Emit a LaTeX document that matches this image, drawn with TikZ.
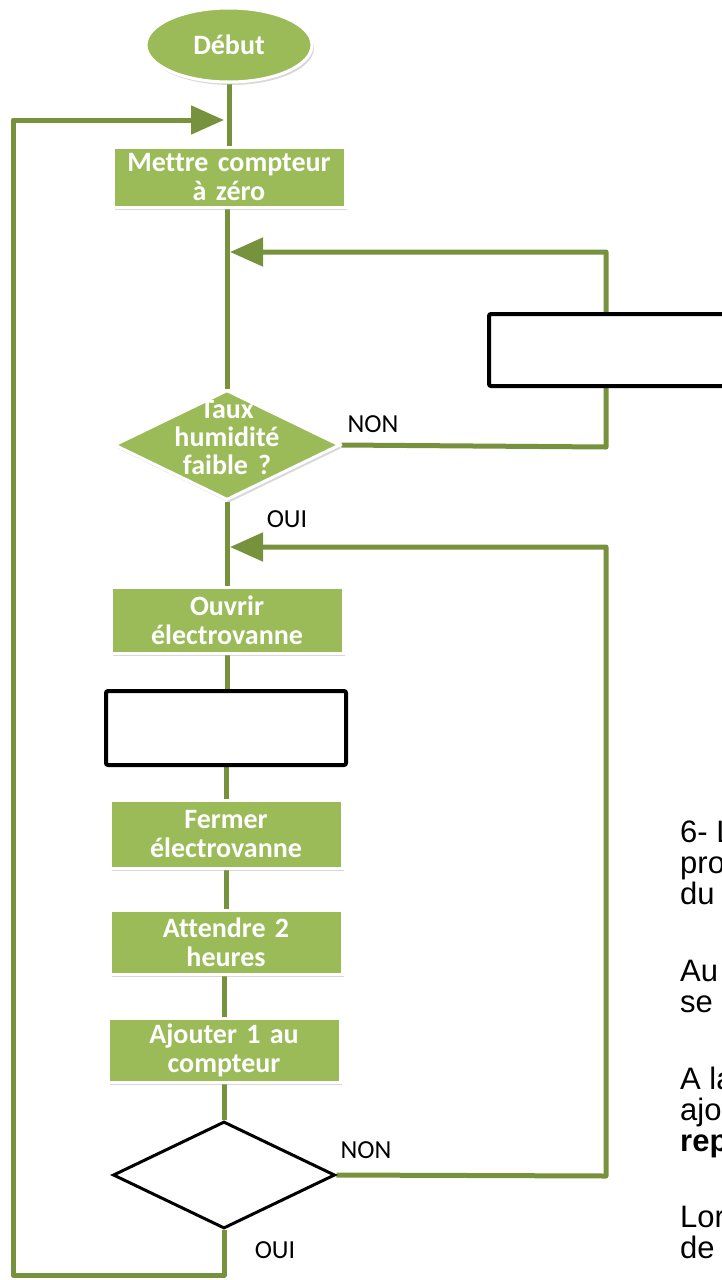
\documentclass[tikz,border=0pt]{standalone}
\usepackage{fontspec}
\setmainfont{Carlito}[WordSpace=0.8, Ligatures=NoCommon]
\newfontfamily\arialfont{Liberation Sans}
\usetikzlibrary{shapes.geometric,arrows.meta,shadows,backgrounds}

\definecolor{VertClair}{RGB}{155,187,89}
\definecolor{VertFonce}{RGB}{118,146,60}

\tikzset{
    etape/.style={rectangle, fill=VertClair, draw=white, line width=3pt,
        minimum width=232pt, minimum height=64pt, text width=228pt, align=center,
        inner sep=0pt, text=white, font=\bfseries\fontsize{28}{29}\selectfont,
        drop shadow={shadow xshift=2pt, shadow yshift=-3pt, fill=black!30}},
    vide/.style={rectangle, fill=white, draw=black, line width=4pt,
        rounded corners=2pt, minimum width=240pt, minimum height=74pt},
    testvert/.style={diamond, fill=VertClair, draw=white, line width=3pt,
        inner sep=0pt, minimum width=226pt, minimum height=110pt,
        drop shadow={shadow xshift=2pt, shadow yshift=-3pt, fill=black!30}},
    testvide/.style={diamond, fill=white, draw=black, line width=3pt,
        inner sep=0pt, minimum width=222pt, minimum height=107pt},
    liaison/.style={draw=VertFonce, line width=5pt, line join=round},
    retour/.style={liaison, -{Triangle[length=33pt,width=28pt]}},
    etiquette/.style={font=\fontsize{26}{28}\selectfont, inner sep=0pt},
    consigne/.style={font=\arialfont\fontsize{31}{31}\selectfont, anchor=base west, inner sep=0pt}
}

\begin{document}
\begin{tikzpicture}[x=1pt,y=-1pt]
    \useasboundingbox (0,0) rectangle (721,1280);

    % colonne principale
    \node[ellipse, fill=VertClair, draw=white, line width=3pt, minimum width=166pt, minimum height=74pt,
        text=white, font=\bfseries\fontsize{28}{29}\selectfont,
        drop shadow={shadow xshift=2pt, shadow yshift=-3pt, fill=black!30}] (Debut) at (229,45) {Début};
    \node[etape, minimum height=60pt] (RazCompteur) at (229,177) {Mettre compteur\\à zéro};
    \node[testvert] (TestHumidite) at (227,445) {};
    \node[text=white, font=\bfseries\fontsize{28}{28}\selectfont, align=center, inner sep=0pt]
        (TexteHumidite) at (227,438) {Taux\\humidité\\faible~ ?};
    \node[etape, minimum height=66pt] (OuvrirVanne) at (227,620) {Ouvrir\\électrovanne};
    \node[vide] (BlocVide) at (226,728) {};
    \node[etape, minimum height=68pt] (FermerVanne) at (226,834) {Fermer\\électrovanne};
    \node[etape] (Attendre) at (226,942) {Attendre 2\\heures};
    \node[etape] (AjouterUn) at (224,1050) {Ajouter 1 au\\compteur};
    \node[testvide] (TestCompteur) at (224,1175) {};

    % bloc de droite
    \node[vide, minimum width=262pt, minimum height=72pt, anchor=west] (BlocDroit) at (487,350) {};

    % points de retour
    \coordinate (RetourDebut) at (224,120);
    \coordinate (RetourHaut) at (230,252);
    \coordinate (RetourMilieu) at (230,547);

    \begin{scope}[on background layer]
        \draw[liaison] (Debut.south -| RazCompteur) -- (RazCompteur.north);
        \draw[liaison] (RazCompteur.south -| TestHumidite) -- (TestHumidite.north);
        \draw[liaison] (TestHumidite.south) -- (OuvrirVanne.north -| TestHumidite);
        \draw[liaison] (OuvrirVanne.south) -- (BlocVide.north -| OuvrirVanne);
        \draw[liaison] (BlocVide.south) -- (FermerVanne.north);
        \draw[liaison] (FermerVanne.south) -- (Attendre.north);
        \draw[liaison] (Attendre.south -| AjouterUn) -- (AjouterUn.north);
        \draw[liaison] (AjouterUn.south) -- (TestCompteur.north);
        \draw[retour] (TestHumidite.east) -- (606,447) -- (606,252) -- (RetourHaut);
        \draw[retour] (TestCompteur.east) -- (606,1176) -- (606,547) -- (RetourMilieu);
        \draw[retour] (TestCompteur.south) -- (224,1275) -- (13,1275) -- (13,120) -- (RetourDebut);
    \end{scope}

    % etiquettes
    \node[etiquette] (NonHaut) at (373,424) {NON};
    \node[etiquette] (OuiHaut) at (287,519) {OUI};
    \node[etiquette] (NonBas) at (366,1150) {NON};
    \node[etiquette] (OuiBas) at (275,1250) {OUI};

    % texte coupe a droite
    \node[consigne] (Ligne1) at (680,842) {6- L};
    \node[consigne] (Ligne2) at (680,873) {pro};
    \node[consigne] (Ligne3) at (680,904) {du};
    \node[consigne] (Ligne4) at (680,981) {Au};
    \node[consigne] (Ligne5) at (680,1012) {se};
    \node[consigne] (Ligne6) at (680,1089) {A la};
    \node[consigne] (Ligne7) at (680,1120) {ajo};
    \node[consigne, font=\arialfont\bfseries\fontsize{31}{31}\selectfont] (Ligne8) at (680,1151) {rep};
    \node[consigne] (Ligne9) at (680,1227) {Lor};
    \node[consigne] (Ligne10) at (680,1258) {de};
\end{tikzpicture}
\end{document}
